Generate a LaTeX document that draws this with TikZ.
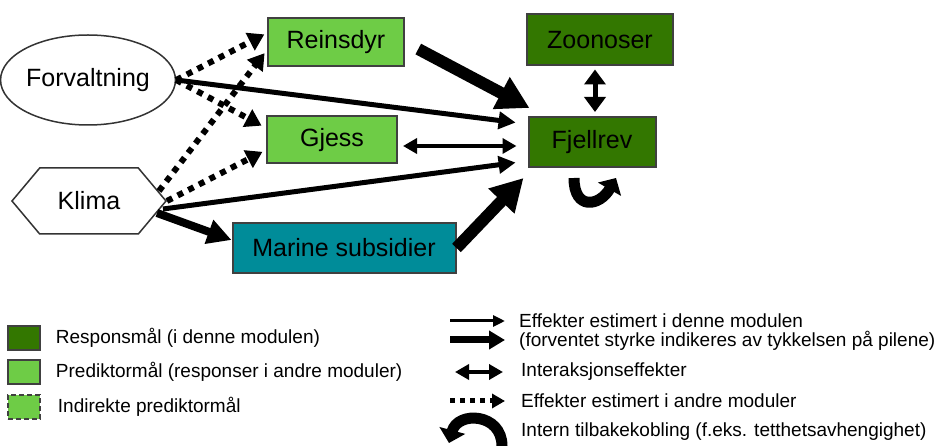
\documentclass[tikz,border=0pt]{standalone}
\usepackage{fontspec}
\setmainfont{Liberation Sans}
\usepackage{xcolor}
\usetikzlibrary{arrows.meta, shapes.geometric, shapes.symbols, positioning}
\definecolor{respgreen}{RGB}{51,119,0}
\definecolor{predgreen}{RGB}{110,204,70}
\definecolor{marinecol}{RGB}{0,140,153}

\begin{document}
\begin{tikzpicture}[
    x=1pt, y=-1pt,
    box/.style={rectangle, draw=black!75, line width=2pt, inner sep=0pt, font=\fontsize{25}{30}\selectfont},
    respbox/.style={box, fill=respgreen},
    predbox/.style={box, fill=predgreen},
    driver/.style={draw=black!80, line width=1.5pt, fill=white, inner sep=0pt, font=\fontsize{25}{30}\selectfont},
    keybox/.style={rectangle, draw=black!75, line width=1.5pt, minimum width=32pt, minimum height=24pt, inner sep=0pt},
    keytext/.style={inner sep=0pt, anchor=west, font=\fontsize{19}{23}\selectfont},
    thinarr/.style={-{Triangle[length=14pt, width=14pt]}, line width=3pt},
    medarr/.style={-{Triangle[length=17pt, width=17pt]}, line width=5pt},
    widearr/.style={-{Triangle[length=24pt, width=24pt]}, line width=8pt},
    bigarr/.style={-{Triangle[length=32pt, width=34pt]}, line width=12pt},
    dblarr/.style={{Triangle[length=14pt, width=15pt]}-{Triangle[length=14pt, width=15pt]}, line width=3.5pt},
    dotarr/.style={-{Triangle[length=16pt, width=19pt]}, line width=6pt, dash pattern=on 6pt off 6pt},
    looparr/.style={-{Triangle[length=13pt, width=26pt]}, line width=11pt}
]
\useasboundingbox (0,0) rectangle (943,446);

% drivers
\node[driver, ellipse, minimum width=156pt, minimum height=90pt] (forv) at (88,80) {Forvaltning};
\node[driver, signal, signal to=west and east, signal pointer angle=100,
      minimum width=154pt, minimum height=66pt] (klima) at (89,201) {Klima};

% targets
\node[predbox, minimum width=136pt, minimum height=48pt] (reins) at (336,42) {Reinsdyr};
\node[predbox, minimum width=130pt, minimum height=47pt] (gjess) at (332,140) {Gjess};
\node[box, fill=marinecol, minimum width=223pt, minimum height=50pt] (marine) at (344,248) {Marine subsidier};
\node[respbox, minimum width=146pt, minimum height=51pt] (zoon) at (600,40) {Zoonoser};
\node[respbox, minimum width=127pt, minimum height=50pt] (fjell) at (592,142) {Fjellrev};

% effects on Fjellrev
\draw[bigarr, shorten <=15pt] (reins.east) -- ([shift={(2pt,8pt)}]fjell.north west);
\draw[medarr, shorten >=12pt] (forv.east) -- ([yshift=18pt]fjell.west);
\draw[dblarr, shorten <=5pt, shorten >=11pt] ([yshift=-6pt]gjess.east) -- ([yshift=-4pt]fjell.west);
\draw[medarr, shorten >=12pt] ([shift={(-4pt,-8pt)}]klima.east) -- ([yshift=-19pt]fjell.west);
\draw[bigarr] (marine.east) -- ([shift={(-4pt,-10pt)}]fjell.south west);
\draw[widearr] ([shift={(-10pt,-12pt)}]klima.east) -- ([yshift=8pt]marine.west);
\draw[dblarr, line width=5pt, {Triangle[length=15pt, width=21pt]}-{Triangle[length=15pt, width=21pt]}, shorten <=3pt, shorten >=4pt] ([xshift=-5pt]zoon.south) -- ([xshift=-5pt]zoon.south |- fjell.north);
\draw[looparr] ([shift={(-18pt,-10pt)}]fjell.south) to[out=-90, in=-120, looseness=2] ([shift={(24pt,-10pt)}]fjell.south);

% effects estimated elsewhere
\draw[dotarr, shorten >=3pt] (forv.east) -- ([yshift=9pt]reins.west);
\draw[dotarr, shorten >=5pt] (forv.east) -- ([yshift=12pt]gjess.west);
\draw[dotarr, shorten >=4pt] ([shift={(-8pt,10pt)}]klima.east) -- ([yshift=-8pt]reins.west);
\draw[dotarr, shorten >=4pt] (klima.east) -- ([yshift=-10pt]gjess.west);

% key, boxes
\node[keybox, fill=respgreen] (key1) at (24,338) {};
\node[keybox, fill=predgreen] (key2) at (24,372) {};
\node[keybox, fill=predgreen, dashed, dash pattern=on 5pt off 3pt] (key3) at (24,407) {};
\node[keytext, right=15pt of key1] (keyt1) {Responsmål (i denne modulen)};
\node[keytext, right=15pt of key2] (keyt2) {Prediktormål (responser i andre moduler)};
\node[keytext, right=17pt of key3] (keyt3) {Indirekte prediktormål};

% key, arrows
\coordinate (a1) at (450,321);
\coordinate (b1) at (505,321);
\coordinate (a2) at (450,340);
\coordinate (b2) at (505,340);
\coordinate (a3) at (455,372);
\coordinate (b3) at (503,372);
\coordinate (a4) at (450,401);
\coordinate (b4) at (505,401);
\coordinate (a5) at (502,446);
\coordinate (b5) at (449,443);
\draw[thinarr, -{Triangle[length=12pt, width=11pt]}] (a1) -- (b1);
\draw[medarr, line width=7pt, -{Triangle[length=16pt, width=18pt]}] (a2) -- (b2);
\draw[dblarr] (a3) -- (b3);
\draw[dotarr, line width=5pt, dash pattern=on 5pt off 5pt, -{Triangle[length=13pt, width=14pt]}] (a4) -- (b4);
\draw[looparr] (a5) to[out=90, in=75, looseness=1.6] (b5);
\node[keytext] (keyt4) at (519,321) {Effekter estimert i denne modulen};
\node[keytext] (keyt5) at (519,341) {(forventet styrke indikeres av tykkelsen på pilene)};
\node[keytext] (keyt6) at (521,372) {Interaksjonseffekter};
\node[keytext] (keyt7) at (521,401) {Effekter estimert i andre moduler};
\node[keytext] (keyt8) at (521,432) {Intern tilbakekobling (f.eks. tetthetsavhengighet)};
\end{tikzpicture}
\end{document}
